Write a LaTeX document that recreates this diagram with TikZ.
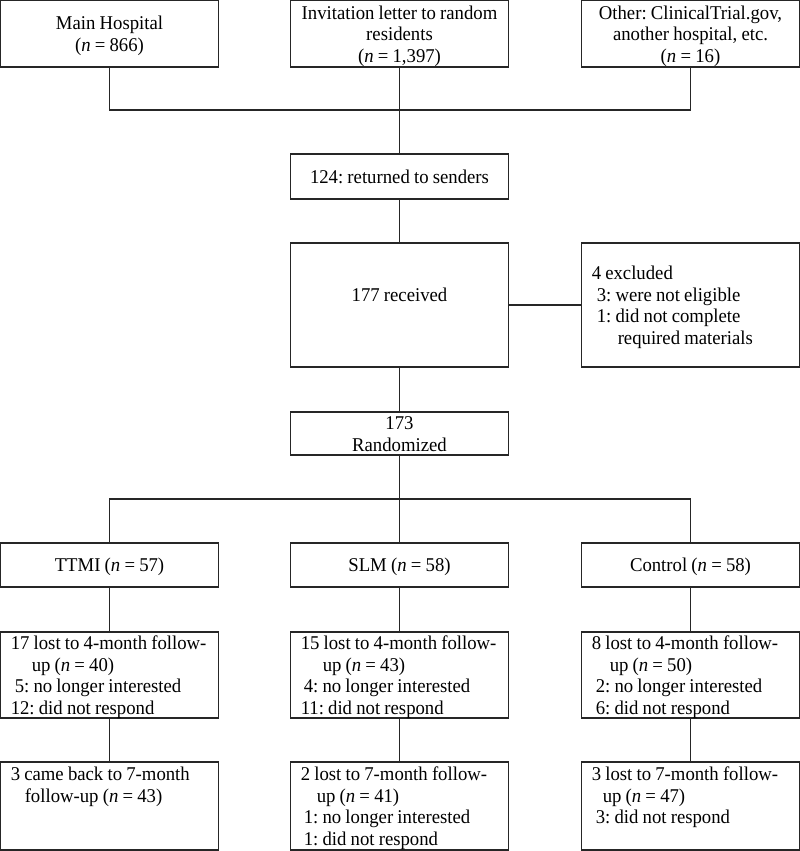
\documentclass[tikz,border=0pt]{standalone}
\usepackage{fontspec}
\setmainfont{Liberation Serif}[FakeStretch=0.96,WordSpace=0.9]
\frenchspacing

\newcommand{\nn}{\textit{n}}
\newcommand{\ind}[1]{\hspace*{#1pt}}
\newcommand{\rows}[2][l]{\spaceskip=0pt\xspaceskip=0pt\raisebox{-2.5pt}[\height][\depth]{\begin{tabular}{@{}#1@{}}#2\end{tabular}}}

\begin{document}
\begin{tikzpicture}[x=1pt,y=-1pt,
    every node/.append style={font=\fontsize{19.5}{21.5}\selectfont},
    box/.style={draw=black!85, line width=1.1pt, rectangle, minimum width=217.5pt, inner sep=0pt, align=center},
    listbox/.style={box, text width=197.5pt, inner xsep=10pt, align=left},
    link/.style={draw=black!85, line width=1.1pt}]
  \useasboundingbox (0,0) rectangle (800,851);

  % sources
  \node[box, minimum height=66.5pt] (hosp) at (109.5,33.8) {\rows[c]{Main Hospital\\(\nn{} = 866)}};
  \node[box, minimum height=66.5pt] (letter) at (399.5,33.8) {\rows[c]{Invitation letter to random\\residents\\(\nn{} = 1,397)}};
  \node[box, minimum height=66.5pt] (other) at (690.5,33.8) {\rows[c]{Other: ClinicalTrial.gov,\\another hospital, etc.\\(\nn{} = 16)}};

  \node[box, minimum height=45pt] (ret) at (399.5,176.5) {\rows[c]{124: returned to senders}};
  \node[box, minimum height=124pt] (rec) at (399.5,305) {\rows[c]{177 received\\\mbox{}}};
  \node[listbox, minimum height=124pt] (excl) at (690.5,305) {\rows{4 excluded\\\ind{5}3: were not eligible\\\ind{5}1: did not complete\\\ind{26}required materials}};
  \node[box, minimum height=43pt] (rand) at (399.5,433.5) {\rows[c]{173\\Randomized}};

  % arms
  \node[box, minimum height=44pt] (grpA) at (109.5,565) {\rows[c]{TTMI (\nn{} = 57)}};
  \node[box, minimum height=44pt] (grpB) at (399.5,565) {\rows[c]{SLM (\nn{} = 58)}};
  \node[box, minimum height=44pt] (grpC) at (690.5,565) {\rows[c]{Control (\nn{} = 58)}};

  \node[listbox, minimum height=86pt] (lostA) at (109.5,675) {\rows{17 lost to 4-month follow-\\\ind{21}up (\nn{} = 40)\\\ind{4}5: no longer interested\\12: did not respond}};
  \node[listbox, minimum height=86pt] (lostB) at (399.5,675) {\rows{15 lost to 4-month follow-\\\ind{22}up (\nn{} = 43)\\\ind{3}4: no longer interested\\11: did not respond}};
  \node[listbox, minimum height=86pt] (lostC) at (690.5,675) {\rows{8 lost to 4-month follow-\\\ind{18}up (\nn{} = 50)\\\ind{4}2: no longer interested\\\ind{4}6: did not respond}};

  \node[listbox, minimum height=88pt] (sevenA) at (109.5,806) {\rows{3 came back to 7-month\\\ind{14}follow-up (\nn{} = 43)\\\mbox{}\\\mbox{}}};
  \node[listbox, minimum height=88pt] (sevenB) at (399.5,806) {\rows{2 lost to 7-month follow-\\\ind{16}up (\nn{} = 41)\\\ind{3}1: no longer interested\\\ind{3}1: did not respond}};
  \node[listbox, minimum height=88pt] (sevenC) at (690.5,806) {\rows{3 lost to 7-month follow-\\\ind{11}up (\nn{} = 47)\\\ind{4}3: did not respond\\\mbox{}}};

  % connectors
  \coordinate (joinTop) at (399.5,110);
  \coordinate (joinArms) at (399.5,499);
  \path[link] (hosp.south) |- (joinTop) -| (other.south);
  \path[link] (letter.south) -- (ret.north);
  \path[link] (ret.south) -- (rec.north);
  \path[link] (rec.east) -- (excl.west);
  \path[link] (rec.south) -- (rand.north);
  \path[link] (grpA.north) |- (joinArms) -| (grpC.north);
  \path[link] (rand.south) -- (grpB.north);
  \foreach \c in {A,B,C}{
    \path[link] (grp\c.south) -- (lost\c.north);
    \path[link] (lost\c.south) -- (seven\c.north);
  }
\end{tikzpicture}
\end{document}
